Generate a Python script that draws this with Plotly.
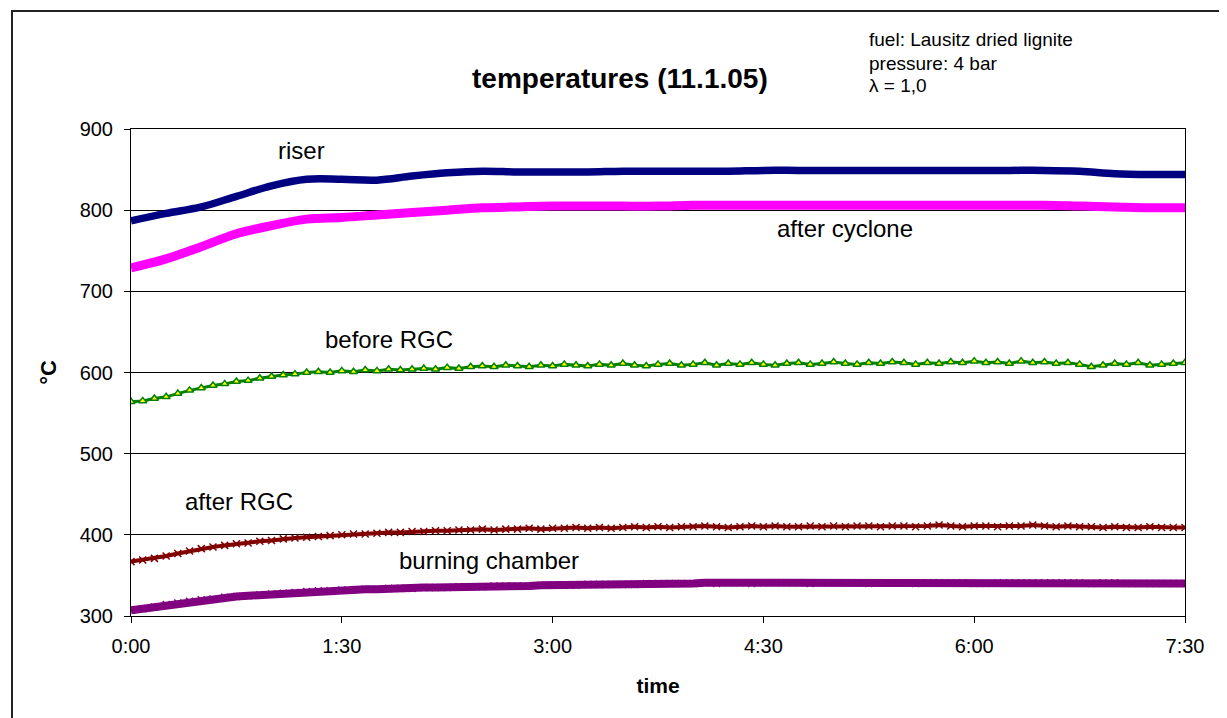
import plotly.graph_objects as go

# time in minutes
t15 = list(range(0, 451, 15))
t5 = list(range(0, 451, 5))

riser = [787, 796, 804, 817, 830, 838, 838, 837, 842, 846, 848, 847, 847, 847, 848, 848,
         848, 848, 849, 849, 849, 849, 849, 849, 849, 849, 849, 848, 845, 844, 844]

after_cyclone = [729, 740, 755, 771, 781, 789, 791, 794, 797, 800, 803, 804, 805, 805, 805, 805,
                 806, 806, 806, 806, 806, 806, 806, 806, 806, 806, 806, 805, 804, 803, 803]

before_rgc = [564, 565, 568, 570, 574, 578, 581, 584, 586, 589, 590, 593, 595, 597, 598, 600,
              601, 600, 602, 601, 603, 602, 604, 603, 604, 605, 604, 606, 605, 607, 608, 607,
              609, 608, 607, 609, 608, 610, 609, 608, 610, 609, 611, 609, 608, 610, 611, 609,
              610, 612, 609, 611, 610, 612, 610, 609, 611, 612, 610, 611, 613, 611, 610, 612,
              611, 613, 612, 610, 612, 611, 613, 612, 614, 612, 613, 611, 614, 612, 613, 611,
              612, 610, 607, 609, 611, 610, 612, 609, 610, 611, 612]

after_rgc = [367, 369, 371, 374, 377, 380, 383, 385, 387, 389, 390, 392, 393, 395, 396, 397,
             398, 399, 400, 401, 401, 402, 403, 403, 404, 404, 405, 405, 406, 406, 407, 406,
             407, 407, 408, 407, 408, 408, 409, 408, 409, 408, 409, 410, 409, 410, 409, 410,
             410, 411, 410, 409, 410, 411, 410, 411, 410, 410, 411, 410, 411, 410, 411, 411,
             410, 411, 411, 410, 411, 412, 411, 410, 411, 411, 410, 411, 411, 412, 411, 410,
             411, 410, 410, 409, 410, 409, 409, 410, 409, 409, 409]

burning_chamber = [307, 309, 311, 314, 316, 318, 320, 321, 323, 324, 325, 326, 327, 328, 329, 330,
                   331, 331, 332, 332, 333, 333, 334, 334, 334, 335, 335, 335, 336, 336, 336, 337,
                   337, 337, 337, 338, 338, 338, 338, 339, 339, 339, 339, 339, 340, 340, 340, 340,
                   340, 341, 340, 341, 341, 340, 341, 341, 341, 341, 340, 341, 341, 341, 341, 340,
                   341, 341, 341, 340, 341, 341, 341, 341, 340, 340, 341, 341, 341, 341, 341, 341,
                   341, 341, 340, 341, 341, 340, 340, 340, 340, 340, 340]

tick_vals = [0, 90, 180, 270, 360, 450]
tick_text = ["0:00", "1:30", "3:00", "4:30", "6:00", "7:30"]
y_ticks = [300, 400, 500, 600, 700, 800, 900]

labels = ["riser", "after cyclone", "before RGC", "after RGC", "burning chamber"]
label_x = [73, 305, 110, 46, 153]
label_y = [874, 777, 641, 441, 368]

FONT = "Arial, Liberation Sans, sans-serif"

fig = go.Figure()
fig.add_trace(go.Scatter(x=t5, y=burning_chamber, mode="lines+markers",
                         line=dict(color="#800080", width=8),
                         marker=dict(symbol="x-thin", size=7, color="#800080",
                                     line=dict(color="#800080", width=1.5))))
fig.add_trace(go.Scatter(x=t5, y=after_rgc, mode="lines+markers",
                         line=dict(color="#800000", width=4),
                         marker=dict(symbol="x-thin", size=7,
                                     line=dict(color="#800000", width=1.5))))
fig.add_trace(go.Scatter(x=t5, y=before_rgc, mode="lines+markers",
                         line=dict(color="#008000", width=3),
                         marker=dict(symbol="triangle-up", size=7, color="#FFFF00",
                                     line=dict(color="#008000", width=1.5))))
fig.add_trace(go.Scatter(x=t15, y=after_cyclone, mode="lines",
                         line=dict(color="#FF00FF", width=9, shape="spline")))
fig.add_trace(go.Scatter(x=t15, y=riser, mode="lines",
                         line=dict(color="#000080", width=7.5, shape="spline")))

for txt, lx, ly in zip(labels, label_x, label_y):
    fig.add_annotation(x=lx, y=ly, xref="x", yref="y", text=txt, showarrow=False,
                       font=dict(family=FONT, size=24, color="black"))

fig.add_annotation(x=0.464, y=1.1396, xref="paper", yref="paper",
                   text="<b>temperatures (11.1.05)</b>", showarrow=False,
                   font=dict(family=FONT, size=28, color="black"))

notes = ["fuel: Lausitz dried lignite", "pressure: 4 bar", "λ = 1,0"]
note_y = [1.1828, 1.1355, 1.0883]
for txt, ny in zip(notes, note_y):
    fig.add_annotation(x=0.698, y=ny, xref="paper", yref="paper", text=txt,
                       xanchor="left", yanchor="middle", showarrow=False,
                       font=dict(family=FONT, size=19, color="black"))

# outer chart frame
fig.add_shape(type="rect", xref="paper", yref="paper",
              x0=-0.1129, y0=-0.5, x1=1.3, y1=1.2423,
              line=dict(color="#222222", width=2), fillcolor="rgba(0,0,0,0)", layer="below")

fig.update_layout(
    width=1219, height=710,
    margin=dict(l=123, r=42, t=121, b=102),
    paper_bgcolor="white", plot_bgcolor="white",
    showlegend=False,
    font=dict(family=FONT, color="black"),
    xaxis=dict(range=[0, 450], tickvals=tick_vals, ticktext=tick_text,
               ticks="outside", ticklen=6, tickcolor="black", showgrid=False,
               showline=True, linecolor="black", linewidth=1, mirror=True,
               zeroline=False, tickfont=dict(size=20), ticklabelstandoff=6,
               title=dict(text="<b>time</b>", font=dict(size=21), standoff=22)),
    yaxis=dict(range=[300, 900], tickvals=y_ticks, ticks="outside", ticklen=6,
               tickcolor="black", showgrid=True, gridcolor="black", gridwidth=1,
               showline=True, linecolor="black", linewidth=1, mirror=True,
               zeroline=False, tickfont=dict(size=20), ticklabelstandoff=7,
               title=dict(text="<b>°C</b>", font=dict(size=22), standoff=16)),
)

fig.write_html("out.html")
